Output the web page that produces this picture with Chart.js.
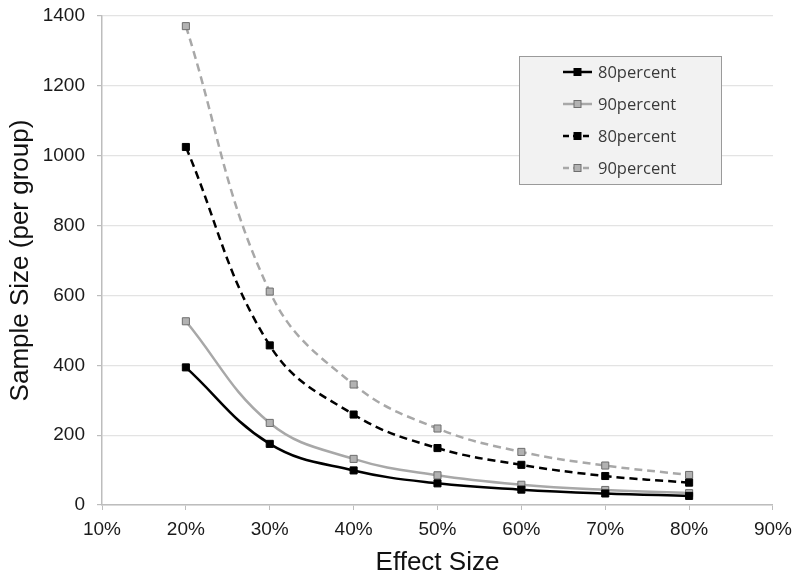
<!DOCTYPE html>
<html>
<head>
<meta charset="utf-8">
<script src="https://cdn.jsdelivr.net/npm/chart.js@4/dist/chart.umd.min.js"></script>
<style>
  html, body { margin: 0; padding: 0; background: #ffffff; }
  #wrap { width: 800px; height: 578px; }
</style>
</head>
<body>
<div id="wrap"><canvas id="c" width="800" height="578"></canvas></div>
<script>
// ---- data ----
const effectSizes = [0.2, 0.3, 0.4, 0.5, 0.6, 0.7, 0.8];
const power80Solid = [394, 175, 99, 62, 44, 33, 26];
const power90Solid = [526, 235, 132, 85, 58, 43, 34];
const power80Dashed = [1025, 457, 259, 163, 115, 83, 64];
const power90Dashed = [1371, 611, 345, 219, 152, 113, 86];
const seriesNames = ['80percent', '90percent', '80percent', '90percent'];
const xTickMin = 0.1, xTickMax = 0.9, xTickStep = 0.1;
const yTickMin = 0, yTickMax = 1400, yTickStep = 200;
const xTitle = 'Effect Size';
const yTitle = 'Sample Size (per group)';

const toPoints = arr => arr.map((v, i) => ({ x: effectSizes[i], y: v }));

const BLACK = '#000000';
const GRAY = '#a8a8a8';
const GRAY_FILL = '#b2b2b2';
const GRAY_EDGE = '#6e6e6e';

function series(name, values, color, fill, edge, dash) {
  return {
    label: name,
    data: toPoints(values),
    borderColor: color,
    backgroundColor: fill,
    borderWidth: 2.5,
    borderDash: dash,
    pointStyle: 'rect',
    pointRadius: 5,
    pointHoverRadius: 5,
    pointBackgroundColor: fill,
    pointBorderColor: edge,
    pointBorderWidth: 1,
    tension: 0.4,
    fill: false
  };
}

const datasets = [
  series(seriesNames[0], power80Solid, BLACK, BLACK, BLACK, []),
  series(seriesNames[1], power90Solid, GRAY, GRAY_FILL, GRAY_EDGE, []),
  series(seriesNames[2], power80Dashed, BLACK, BLACK, BLACK, [8, 5]),
  series(seriesNames[3], power90Dashed, GRAY, GRAY_FILL, GRAY_EDGE, [8, 5])
];

// legend drawn inside the plot area, from the datasets
const insideLegend = {
  id: 'insideLegend',
  afterDraw(chart) {
    const ctx = chart.ctx;
    const bx = 519.5, by = 56.5, bw = 202, bh = 128;
    ctx.save();
    ctx.fillStyle = '#f2f2f2';
    ctx.strokeStyle = '#9a9a9a';
    ctx.lineWidth = 1;
    ctx.fillRect(bx, by, bw, bh);
    ctx.strokeRect(bx, by, bw, bh);
    const rowY = [72, 104, 136, 168];
    chart.data.datasets.forEach((ds, i) => {
      const y = rowY[i];
      ctx.beginPath();
      ctx.setLineDash(ds.borderDash && ds.borderDash.length ? [6, 4] : []);
      ctx.strokeStyle = ds.borderColor;
      ctx.lineWidth = ds.borderWidth;
      ctx.moveTo(563, y);
      ctx.lineTo(592, y);
      ctx.stroke();
      ctx.setLineDash([]);
      ctx.fillStyle = ds.pointBackgroundColor;
      ctx.strokeStyle = ds.pointBorderColor;
      ctx.lineWidth = 1;
      ctx.fillRect(574, y - 3.5, 7, 7);
      ctx.strokeRect(574, y - 3.5, 7, 7);
      ctx.fillStyle = '#3a3a3a';
      ctx.font = '16.5px "Open Sans"';
      ctx.textAlign = 'left';
      ctx.textBaseline = 'middle';
      ctx.fillText(ds.label, 598, y + 1);
    });
    ctx.restore();
  }
};

new Chart(document.getElementById('c'), {
  type: 'line',
  data: { datasets },
  plugins: [insideLegend],
  options: {
    responsive: false,
    devicePixelRatio: 1,
    animation: false,
    layout: { padding: { top: 16, right: 7, left: 0, bottom: 0 } },
    plugins: {
      legend: { display: false },
      tooltip: { enabled: false }
    },
    scales: {
      x: {
        type: 'linear',
        min: xTickMin,
        max: xTickMax,
        afterFit(scale) { scale.height = 73; },
        ticks: {
          stepSize: xTickStep,
          callback: v => Math.round(v * 100) + '%',
          color: '#1a1a1a',
          font: { family: '"Liberation Sans", Arial, sans-serif', size: 19 },
          padding: 8,
          maxRotation: 0
        },
        grid: {
          drawOnChartArea: false,
          drawTicks: true,
          tickLength: 5,
          tickColor: '#bdbdbd',
          color: '#bdbdbd'
        },
        border: { color: '#bdbdbd', width: 1.5 },
        title: {
          display: true,
          text: xTitle,
          color: '#111111',
          font: { family: '"Liberation Sans", Arial, sans-serif', size: 26 },
          padding: { top: 0, bottom: 0 }
        }
      },
      y: {
        min: yTickMin,
        max: yTickMax,
        afterFit(scale) { scale.width = 102; scale.paddingTop = 16; },
        ticks: {
          stepSize: yTickStep,
          callback: v => String(v),
          color: '#1a1a1a',
          font: { family: '"Liberation Sans", Arial, sans-serif', size: 19 },
          padding: 12
        },
        grid: {
          color: '#e3e3e3',
          lineWidth: 1.2,
          drawTicks: true,
          tickLength: 5,
          tickColor: '#bdbdbd'
        },
        border: { color: '#bdbdbd', width: 1.5 },
        title: {
          display: true,
          text: yTitle,
          color: '#111111',
          font: { family: '"Liberation Sans", Arial, sans-serif', size: 26 },
          padding: { top: 5, bottom: 0 }
        }
      }
    }
  }
});
</script>
</body>
</html>
